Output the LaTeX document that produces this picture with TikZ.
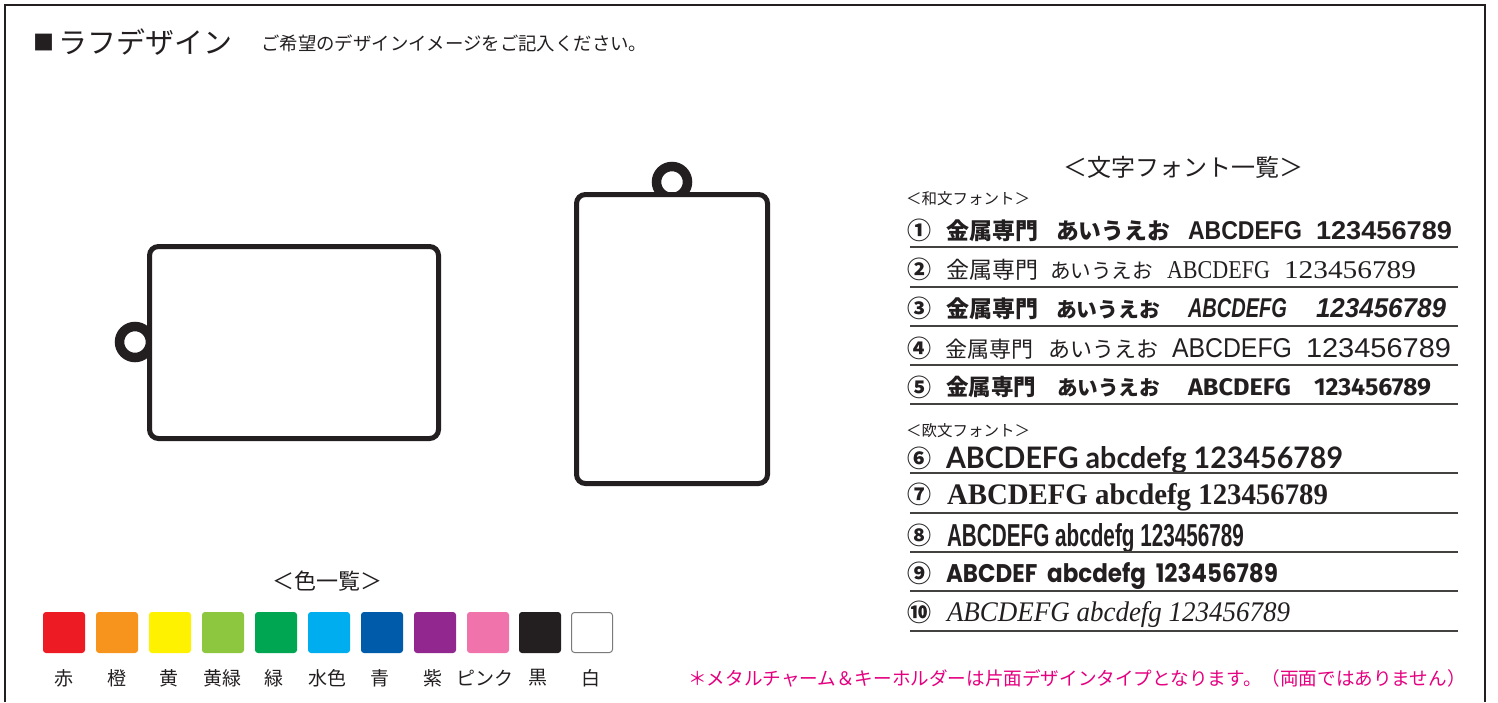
\documentclass[tikz,border=0pt]{standalone}
\usepackage{fontspec}
\usepackage{graphicx}
\setmainfont{Noto Sans CJK JP}
\newfontfamily\jp{Noto Sans CJK JP}
\newfontfamily\lsans{Liberation Sans}
\newfontfamily\lserif{Liberation Serif}
\newfontfamily\fira{Fira Sans}
\newfontfamily\lato{Lato}
\newfontfamily\pop{Poppins}
\definecolor{ink}{HTML}{231F20}
\definecolor{cRed}{HTML}{ED1C24}
\definecolor{cOrange}{HTML}{F7941D}
\definecolor{cYellow}{HTML}{FFF200}
\definecolor{cYGreen}{HTML}{8DC63F}
\definecolor{cGreen}{HTML}{00A651}
\definecolor{cCyan}{HTML}{00AEEF}
\definecolor{cBlue}{HTML}{005BAA}
\definecolor{cPurple}{HTML}{92278F}
\definecolor{cPink}{HTML}{F173AC}
\definecolor{cBlack}{HTML}{231F20}
\definecolor{note}{HTML}{E4007F}
\newcommand\fs[1]{\fontsize{#1}{#1}\selectfont}
\tikzset{
  seg/.style={inner sep=0pt, outer sep=0pt, anchor=base west, text=ink},
  circ/.style={inner sep=0pt, text=ink, font=\jp\bfseries\fs{24}},
  rule/.style={draw=ink!85, line width=1.3pt},
  tagbody/.style={draw=ink, fill=white, line width=5pt, rounded corners=9pt},
  ring/.style={draw=ink, line width=9.5pt},
  sw/.style={minimum width=42pt, minimum height=41pt, inner sep=0pt, rounded corners=3pt},
  lbl/.style={inner sep=0pt, text=ink, font=\jp\fs{19}},
  hdr/.style={inner sep=0pt, text=ink},
}
\begin{document}
\begin{tikzpicture}[x=1pt,y=-1pt]
\useasboundingbox (0,0) rectangle (1498,702);
% frame
\draw[ink, line width=2.5pt] (5,702) -- (5,5) -- (1485,5) -- (1485,702);
% title
\node[hdr] (sq) at (43.5,42.5) {\jp\fs{21}■};
\node[hdr, anchor=west] (title) at (58,42) {\jp\fs{29}ラフデザイン};
\node[hdr, anchor=west] (subtitle) at (261,43) {\jp\fs{18.4}ご希望のデザインイメージをご記入ください。};
% horizontal tag
\draw[ring] (135,342) circle (15.5pt);
\draw[tagbody] (149.5,246.5) rectangle (438.5,438.5);
% vertical tag
\draw[ring] (672,182) circle (15.5pt);
\draw[tagbody] (576.5,194.5) rectangle (767.5,483.5);
% font list headers
\node[hdr] (fonthdr) at (1183,167) {\jp\fs{24}＜文字フォント一覧＞};
\node[hdr, anchor=west] (wahdr) at (906,199) {\jp\fs{15.5}＜和文フォント＞};
\node[hdr, anchor=west] (ouhdr) at (906,431) {\jp\fs{15.5}＜欧文フォント＞};
% circled numbers
\node[circ] (n1) at (919,230) {①};
\node[circ] (n2) at (919,269) {②};
\node[circ] (n3) at (919,308) {③};
\node[circ] (n4) at (919,348) {④};
\node[circ] (n5) at (919,387) {⑤};
\node[circ] (n6) at (919,458) {⑥};
\node[circ] (n7) at (919,494) {⑦};
\node[circ] (n8) at (919,535) {⑧};
\node[circ] (n9) at (919,573) {⑨};
\node[circ] (n10) at (919,612) {⑩};
% row 1
\node[seg] (r1a) at (946,239) {\resizebox{92pt}{!}{\jp\bfseries\fs{23}金属専門}};
\node[seg] (r1b) at (1056,239) {\resizebox{114pt}{!}{\jp\bfseries\fs{23}あいうえお}};
\node[seg] (r1c) at (1188,239) {\resizebox{114pt}{18pt}{\lsans\bfseries\fs{20}ABCDEFG}};
\node[seg] (r1d) at (1316,239) {\resizebox{136pt}{18pt}{\lsans\bfseries\fs{20}123456789}};
% row 2
\node[seg] (r2a) at (946,278) {\resizebox{92pt}{!}{\jp\fs{23}金属専門}};
\node[seg] (r2b) at (1050,278) {\resizebox{103pt}{!}{\jp\fs{23}あいうえお}};
\node[seg] (r2c) at (1167,278) {\resizebox{103pt}{17pt}{\lserif\fs{20}ABCDEFG}};
\node[seg] (r2d) at (1284,278) {\resizebox{132pt}{17pt}{\lserif\fs{20}123456789}};
% row 3
\node[seg] (r3a) at (946,317) {\resizebox{92pt}{!}{\jp\bfseries\fs{23}金属専門}};
\node[seg] (r3b) at (1056,317) {\resizebox{104pt}{!}{\jp\bfseries\fs{23}あいうえお}};
\node[seg] (r3c) at (1188,317) {\resizebox{99pt}{19pt}{\lsans\bfseries\itshape\fs{20}ABCDEFG}};
\node[seg] (r3d) at (1316,317) {\resizebox{130pt}{19pt}{\lsans\bfseries\itshape\fs{20}123456789}};
% row 4
\node[seg] (r4a) at (945,357) {\resizebox{88pt}{!}{\jp\fs{23}金属専門}};
\node[seg] (r4b) at (1048,357) {\resizebox{110pt}{!}{\jp\fs{23}あいうえお}};
\node[seg] (r4c) at (1172,357) {\resizebox{120pt}{19pt}{\lsans\fs{20}ABCDEFG}};
\node[seg] (r4d) at (1306,357) {\resizebox{145pt}{19pt}{\lsans\fs{20}123456789}};
% row 5
\node[seg] (r5a) at (946,395) {\resizebox{90pt}{!}{\jp\bfseries\fs{23}金属専門}};
\node[seg] (r5b) at (1057,395) {\resizebox{103pt}{!}{\jp\bfseries\fs{23}あいうえお}};
\node[seg] (r5c) at (1188,395) {\resizebox{103pt}{17pt}{\fira\bfseries\fs{20}ABCDEFG}};
\node[seg] (r5d) at (1314,395) {\resizebox{117pt}{17pt}{\fira\bfseries\fs{20}123456789}};
% rows 6-10
\node[seg] (r6) at (946,468) {\resizebox{397pt}{22pt}{\lato\bfseries\fs{20}ABCDEFG abcdefg 123456789}};
\node[seg] (r7) at (947,504) {\resizebox{381pt}{21pt}{\lserif\bfseries\fs{20}ABCDEFG abcdefg 123456789}};
\node[seg] (r8) at (947,546) {\resizebox{297pt}{23pt}{\lsans\bfseries\fs{20}ABCDEFG abcdefg 123456789}};
\node[seg] (r9) at (946,582) {\resizebox{332pt}{20pt}{\pop\bfseries\fs{20}ABCDEF\ \ abcdefg\ \ 123456789}};
\node[seg] (r10) at (947,621) {\resizebox{343pt}{20pt}{\lserif\itshape\fs{20}ABCDEFG abcdefg 123456789}};
% rules
\foreach \yy in {247,287,326,365,404,473,513,552,591,631}
  \draw[rule] (910,\yy) -- (1458,\yy);
% colour list
\node[hdr] (colhdr) at (327,581) {\jp\fs{22}＜色一覧＞};
\node[sw, fill=cRed] (s1) at (64,632.5) {};
\node[sw, fill=cOrange] (s2) at (117,632.5) {};
\node[sw, fill=cYellow] (s3) at (170,632.5) {};
\node[sw, fill=cYGreen] (s4) at (223,632.5) {};
\node[sw, fill=cGreen] (s5) at (276,632.5) {};
\node[sw, fill=cCyan] (s6) at (329,632.5) {};
\node[sw, fill=cBlue] (s7) at (382,632.5) {};
\node[sw, fill=cPurple] (s8) at (435,632.5) {};
\node[sw, fill=cPink] (s9) at (488,632.5) {};
\node[sw, fill=cBlack] (s10) at (540,632.5) {};
\node[sw, fill=white, draw=ink!60, line width=1pt, minimum width=41pt, minimum height=40pt] (s11) at (592,632.5) {};
\node[lbl] (l1) at (64,678) {赤};
\node[lbl] (l2) at (117,678) {橙};
\node[lbl] (l3) at (169,678) {黄};
\node[lbl] (l4) at (222,678) {黄緑};
\node[lbl] (l5) at (274,678) {緑};
\node[lbl] (l6) at (327,678) {水色};
\node[lbl] (l7) at (380,678) {青};
\node[lbl] (l8) at (433,678) {紫};
\node[lbl] (l9) at (485,678) {ピンク};
\node[lbl] (l10) at (538,678) {黒};
\node[lbl] (l11) at (591,678) {白};
% note
\node[inner sep=0pt, anchor=west, text=note] (notetext) at (688,678) {\jp\fs{18.6}＊メタルチャーム＆キーホルダーは片面デザインタイプとなります。（両面ではありません）};
\end{tikzpicture}
\end{document}
